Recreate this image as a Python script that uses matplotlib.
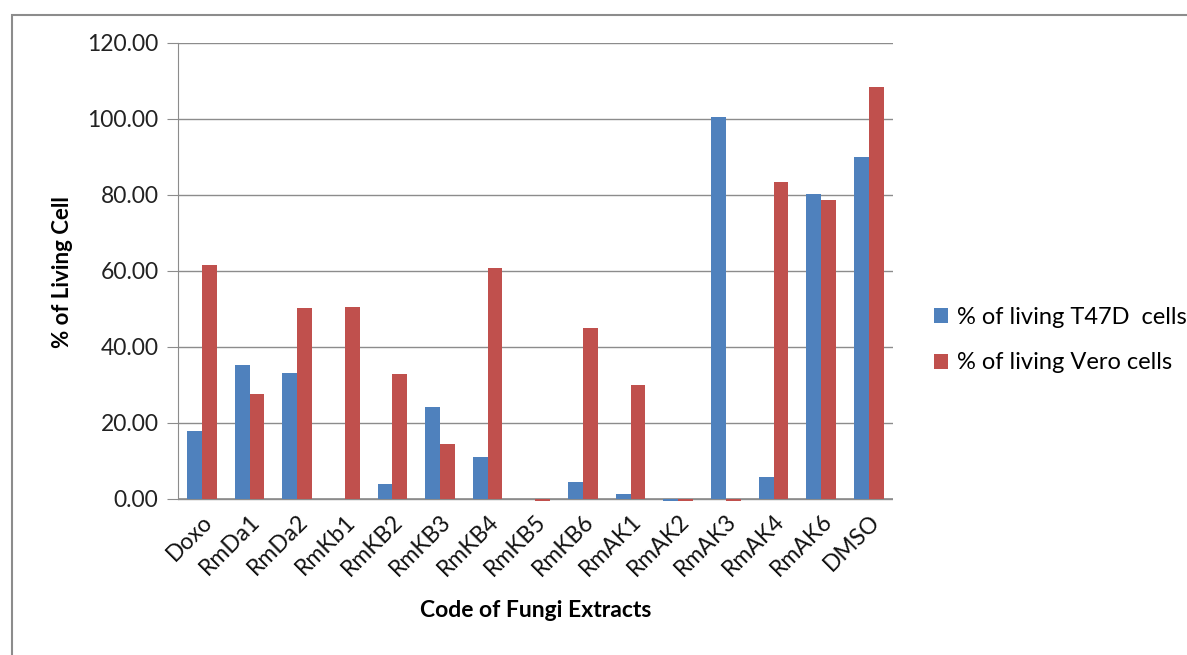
import numpy as np
import matplotlib.pyplot as plt
from matplotlib.patches import Rectangle

# Data
categories = ["Doxo", "RmDa1", "RmDa2", "RmKb1", "RmKB2", "RmKB3", "RmKB4", "RmKB5",
              "RmKB6", "RmAK1", "RmAK2", "RmAK3", "RmAK4", "RmAK6", "DMSO"]
t47d = [17.9, 35.3, 33.2, 0.0, 3.9, 24.2, 11.1, 0.0, 4.5, 1.3, -0.5, 100.5, 5.8, 80.3, 90.0]
vero = [61.6, 27.6, 50.3, 50.5, 32.9, 14.5, 60.8, -0.5, 45.0, 30.0, -0.5, -0.5, 83.4, 78.7, 108.2]
y_ticks = [0, 20, 40, 60, 80, 100, 120]

plt.rcParams['font.family'] = ['Lato', 'DejaVu Sans']

fig = plt.figure(figsize=(11.87, 6.55), dpi=100)
# bottom slightly below zero so the small negative bars show
ax = fig.add_axes([0.15, 0.233, 0.602, 0.702])

# outer chart frame
fig.patches.append(Rectangle((0.010, -0.02), 1.0, 0.997, transform=fig.transFigure,
                             fill=False, edgecolor='#8c8c8c', linewidth=1.5))

x = np.arange(len(categories))
w = 0.31
ax.bar(x - w / 2, t47d, w, color='#4F81BD', label='% of living T47D  cells', zorder=3)
ax.bar(x + w / 2, vero, w, color='#C0504D', label='% of living Vero cells', zorder=3)

ax.set_xlim(-0.5, len(categories) - 0.5)
ax.set_ylim(-0.9, 120)
ax.set_yticks(y_ticks)
ax.set_yticklabels([f"{v:.2f}" for v in y_ticks], fontsize=16.5, color='#222222')
ax.yaxis.grid(True, color='#8c8c8c', linewidth=1, zorder=0)
ax.tick_params(axis='y', length=8, color='#8c8c8c', pad=6)
ax.tick_params(axis='x', length=0, pad=6)
ax.set_xticks(x)
ax.set_xticklabels(categories, rotation=45, ha='right', rotation_mode='anchor', fontsize=16.5,
                   color='#111111')

for side in ['top', 'right', 'bottom']:
    ax.spines[side].set_visible(False)
ax.spines['left'].set_color('#8c8c8c')
ax.spines['left'].set_bounds(0, 120)
ax.axhline(0, color='#8c8c8c', linewidth=1.2, zorder=2)

ax.set_ylabel('% of Living Cell', fontsize=16, fontweight='bold', labelpad=10)
ax.set_xlabel('Code of Fungi Extracts', fontsize=16.5, fontweight='bold', labelpad=14)

ax.legend(loc='center left', bbox_to_anchor=(1.045, 0.353), frameon=False, fontsize=17,
          handlelength=0.6, handleheight=0.6, handletextpad=0.35, labelspacing=1.05,
          borderaxespad=0)

fig.savefig('out.png', dpi=100)
